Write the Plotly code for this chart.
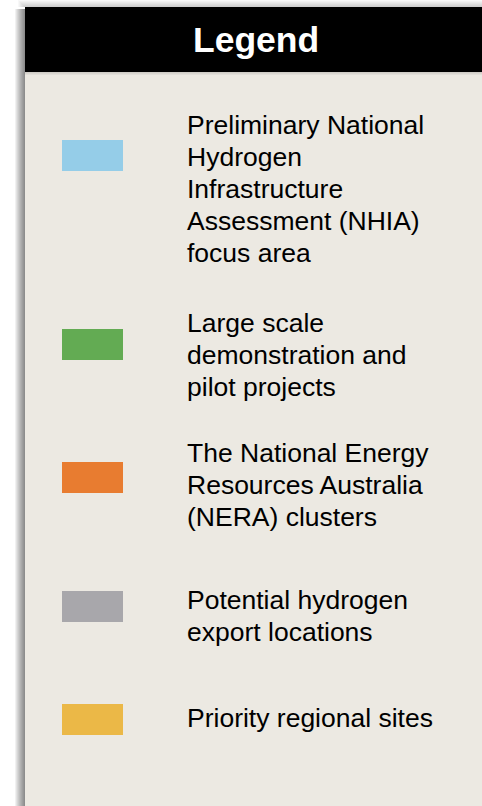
import plotly.graph_objects as go

# ---- data ----
title_text = "Legend"
legend_labels = [
    "Preliminary National<br>Hydrogen<br>Infrastructure<br>Assessment (NHIA)<br>focus area",
    "Large scale<br>demonstration and<br>pilot projects",
    "The National Energy<br>Resources Australia<br>(NERA) clusters",
    "Potential hydrogen<br>export locations",
    "Priority regional sites",
]
swatch_colors = ["#95CDE8", "#63AB53", "#E87C30", "#A8A7AB", "#EBB847"]

# ---- layout constants (pixels) ----
W, H = 482, 806
panel_x0, panel_y0 = 25, 7
header_y1 = 72
swatch_x0, swatch_x1 = 62, 123
swatch_h = 31
swatch_cy = [155.5, 344.5, 477.5, 606.5, 719.5]
text_x = 185
text_first_cy = [125, 323, 453, 600, 718]
line_step = 32
bg_panel = "#ECE9E2"
FONT = "Liberation Sans, Arial, sans-serif"

fig = go.Figure()
shapes = []

# drop shadow (left and top)
for k in range(1, 11):
    shapes.append(dict(type="rect", xref="x", yref="y",
                       x0=panel_x0 - k, x1=panel_x0, y0=panel_y0 + 2, y1=H + 2,
                       fillcolor="rgba(0,0,0,0.055)", line=dict(width=0), layer="below"))
for k in range(1, 8):
    shapes.append(dict(type="rect", xref="x", yref="y",
                       x0=panel_x0 - k, x1=W + 2, y0=panel_y0 - k, y1=panel_y0,
                       fillcolor="rgba(0,0,0,0.028)", line=dict(width=0), layer="below"))

# panel body and header
shapes.append(dict(type="rect", xref="x", yref="y", x0=panel_x0, x1=W + 2,
                   y0=panel_y0, y1=H + 2, fillcolor=bg_panel, line=dict(width=0), layer="below"))
shapes.append(dict(type="rect", xref="x", yref="y", x0=panel_x0, x1=W + 2,
                   y0=panel_y0, y1=header_y1, fillcolor="#000000", line=dict(width=0), layer="below"))
# subtle shadow under header
for k in range(1, 4):
    shapes.append(dict(type="rect", xref="x", yref="y", x0=panel_x0, x1=W + 2,
                       y0=header_y1, y1=header_y1 + k, fillcolor="rgba(0,0,0,0.04)",
                       line=dict(width=0), layer="below"))

# swatches
for c, cy in zip(swatch_colors, swatch_cy):
    shapes.append(dict(type="rect", xref="x", yref="y", x0=swatch_x0, x1=swatch_x1,
                       y0=cy - swatch_h / 2, y1=cy + swatch_h / 2,
                       fillcolor=c, line=dict(width=0)))

annotations = [dict(x=255.5, y=39.5, xref="x", yref="y", text="<b>" + title_text + "</b>",
                    showarrow=False, xanchor="center", yanchor="middle",
                    font=dict(family=FONT, size=35.5, color="#FFFFFF"))]

for label, y0 in zip(legend_labels, text_first_cy):
    for i, line in enumerate(label.split("<br>")):
        annotations.append(dict(x=text_x, y=y0 + i * line_step, xref="x", yref="y",
                                text=line, showarrow=False, xanchor="left", yanchor="middle",
                                font=dict(family=FONT, size=26.5, color="#000000")))

# invisible trace to anchor axes
fig.add_trace(go.Scatter(x=[0, W], y=[0, H], mode="markers",
                         marker=dict(opacity=0), hoverinfo="skip", showlegend=False))

fig.update_layout(
    width=W, height=H,
    margin=dict(l=0, r=0, t=0, b=0),
    paper_bgcolor="#FFFFFF", plot_bgcolor="#FFFFFF",
    xaxis=dict(range=[0, W], visible=False, fixedrange=True),
    yaxis=dict(range=[H, 0], visible=False, fixedrange=True),
    shapes=shapes, annotations=annotations, showlegend=False,
)

fig.write_html("out.html", config={"displayModeBar": False},
               post_script="document.body.style.margin='0';document.body.style.overflow='hidden';")
